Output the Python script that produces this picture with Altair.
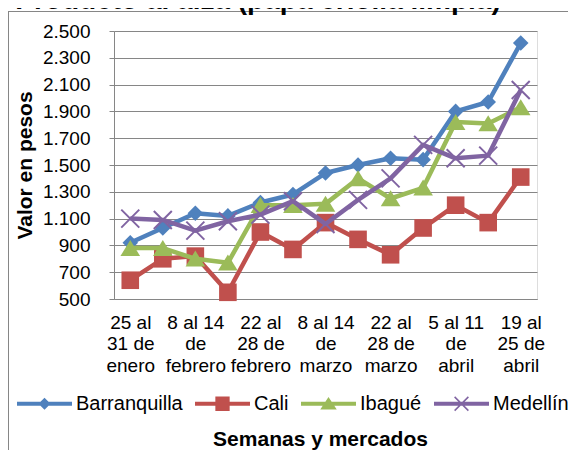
import json
import altair as alt
import pandas as pd

weeks = ["25 al 31 de enero", "1 al 7 de febrero", "8 al 14 de febrero", "15 al 21 de febrero",
         "22 al 28 de febrero", "1 al 7 de marzo", "8 al 14 de marzo", "15 al 21 de marzo",
         "22 al 28 de marzo", "29 de marzo al 4 de abril", "5 al 11 de abril",
         "12 al 18 de abril", "19 al 25 de abril"]
tick_lines = {
    "25 al 31 de enero": ["25 al", "31 de", "enero"],
    "8 al 14 de febrero": ["8 al 14", "de", "febrero"],
    "22 al 28 de febrero": ["22 al", "28 de", "febrero"],
    "8 al 14 de marzo": ["8 al 14", "de", "marzo"],
    "22 al 28 de marzo": ["22 al", "28 de", "marzo"],
    "5 al 11 de abril": ["5 al 11", "de", "abril"],
    "19 al 25 de abril": ["19 al", "25 de", "abril"],
}
markets = ["Barranquilla", "Cali", "Ibagué", "Medellín"]
barranquilla = [920, 1030, 1140, 1120, 1220, 1280, 1440, 1500, 1550, 1540, 1900, 1970, 2410]
cali = [640, 800, 820, 550, 1000, 870, 1070, 945, 830, 1030, 1200, 1070, 1410]
ibague = [880, 880, 800, 770, 1200, 1200, 1210, 1400, 1250, 1330, 1820, 1810, 1930]
medellin = [1100, 1090, 1010, 1080, 1130, 1230, 1060, 1240, 1400, 1650, 1550, 1570, 2060]
y_ticks = list(range(500, 2501, 200))
colors = ["#4F81BD", "#C0504D", "#9BBB59", "#8064A2"]

title_text = "Producto al alza (papa criolla limpia)"
FONT = "Liberation Sans"

series = [barranquilla, cali, ibague, medellin]
rows = []
for m, vals in zip(markets, series):
    for w, v in zip(weeks, vals):
        rows.append({"semana": w, "mercado": m, "valor": v})
df = pd.DataFrame(rows)

# marker shapes (unit box -1..1, size 400 -> 20px)
marker_paths = [
    "M0,-0.78L0.78,0L0,0.78L-0.78,0Z",
    "M-0.88,-0.88L0.88,-0.88L0.88,0.88L-0.88,0.88Z",
    "M0,-0.82L0.98,0.78L-0.98,0.78Z",
    "M-0.83,-0.97L0.97,0.83L0.83,0.97L-0.97,-0.83Z M0.83,-0.97L0.97,-0.83L-0.83,0.97L-0.97,0.83Z",
]
LINE = "M-1,-0.075L1,-0.075L1,0.075L-1,0.075Z "
legend_paths = [
    LINE + "M0,-0.22L0.22,0L0,0.22L-0.22,0Z",
    LINE + "M-0.26,-0.26L0.26,-0.26L0.26,0.26L-0.26,0.26Z",
    LINE + "M0,-0.25L0.3,0.21L-0.3,0.21Z",
    LINE + "M-0.23,-0.27L0.27,0.23L0.23,0.27L-0.27,-0.23Z M0.23,-0.27L0.27,-0.23L-0.23,0.27L-0.27,0.23Z",
]

label_expr = "''"
for k, v in reversed(list(tick_lines.items())):
    label_expr = f"datum.value === {json.dumps(k, ensure_ascii=False)} ? {json.dumps(v, ensure_ascii=False)} : ({label_expr})"

GRAY = "#868686"
W, H = 423, 268

x_enc = alt.X(
    "semana:N", sort=weeks,
    scale=alt.Scale(type="point", padding=0.5, domain=weeks),
    axis=alt.Axis(
        title="Semanas y mercados", labelExpr=label_expr, labelAngle=0, ticks=False,
        domainColor=GRAY, domainWidth=1, grid=False, labelOverlap=False, labelLimit=0,
        labelFontSize=19, labelLineHeight=21.7, labelPadding=14, labelBaseline="top",
        labelFont=FONT, labelColor="black",
        titleFont=FONT, titleFontSize=21, titleFontWeight="bold", titleColor="black",
        titleX=206, titleY=140, titleBaseline="middle", titleAlign="center",
    ),
)
y_enc = alt.Y(
    "valor:Q",
    scale=alt.Scale(domain=[500, 2500], nice=False, zero=False),
    axis=alt.Axis(
        values=y_ticks, labelExpr="replace(format(datum.value, ','), ',', '.')",
        title="Valor en pesos", tickSize=5, tickColor=GRAY, domainColor=GRAY,
        gridColor=GRAY, gridWidth=1, labelPadding=19, labelFontSize=19, labelFont=FONT,
        labelColor="black",
        titleFont=FONT, titleFontSize=21, titleFontWeight="bold", titleColor="black",
        titleX=-89, titleY=134, titleAngle=270, titleBaseline="middle", titleAlign="center",
    ),
)

layers = []
for m, c, p in zip(markets, colors, marker_paths):
    sub = alt.Chart(df).transform_filter(alt.datum.mercado == m)
    layers.append(sub.mark_line(color=c, strokeWidth=4.5, strokeJoin="round").encode(x=x_enc, y=y_enc))
    layers.append(sub.mark_point(color=c, fill=c, filled=True, opacity=1, shape=p, size=400, strokeWidth=0)
                  .encode(x=x_enc, y=y_enc))

leg = alt.Legend(
    orient="none", legendX=-97, legendY=345, direction="horizontal", title=None,
    symbolSize=3025, symbolStrokeWidth=0, labelFontSize=20, labelFont=FONT, labelColor="black",
    labelOffset=4, columnPadding=12, padding=0, symbolOpacity=1,
)
legend_layer = alt.Chart(df).transform_filter("false").mark_point(filled=True).encode(
    x=x_enc, y=y_enc,
    color=alt.Color("mercado:N", scale=alt.Scale(domain=markets, range=colors), legend=leg),
    shape=alt.Shape("mercado:N", scale=alt.Scale(domain=markets, range=legend_paths), legend=leg),
)
layers.append(legend_layer)

border_df = pd.DataFrame({"k": [0]})
top_border = alt.Chart(border_df).mark_rule(color=GRAY, strokeWidth=1).encode(
    x=alt.value(-106), x2=alt.value(454), y=alt.value(-19.5))
left_border = alt.Chart(border_df).mark_rule(color=GRAY, strokeWidth=1).encode(
    x=alt.value(-105.5), y=alt.value(-19.5), y2=alt.value(420))
title_mark = alt.Chart(border_df).mark_text(
    font=FONT, fontSize=28, fontWeight="bold", color="black", align="center", baseline="alphabetic"
).encode(x=alt.value(144), y=alt.value(-22), text=alt.value(title_text))

chart = alt.layer(top_border, left_border, title_mark, *layers).properties(
    width=W, height=H,
    autosize=alt.AutoSizeParams(type="none"),
    padding={"left": 106, "top": 23, "right": 31, "bottom": 151},
).configure_view(stroke=None).configure(background="white")

chart.save("out.html", embed_options={"renderer": "svg", "actions": False})
